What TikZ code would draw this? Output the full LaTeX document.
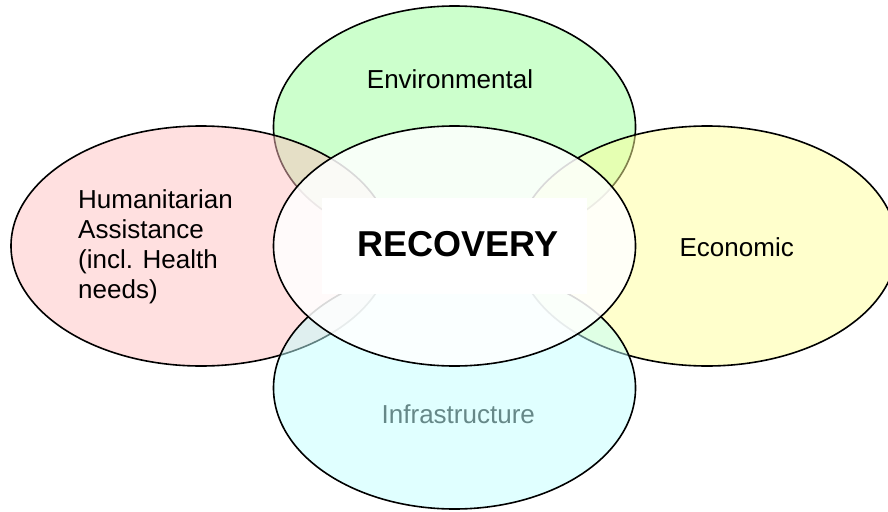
\documentclass[tikz,border=0pt]{standalone}
\usepackage{fontspec}
\setmainfont{Liberation Sans}
\usetikzlibrary{shapes.geometric}

\definecolor{envgreen}{RGB}{153,255,153}
\definecolor{humpink}{RGB}{255,193,193}
\definecolor{ecoyellow}{RGB}{255,255,153}
\definecolor{infcyan}{RGB}{193,255,255}
\definecolor{infgray}{RGB}{102,136,136}

\begin{document}
\begin{tikzpicture}[
        x=1pt, y=-1pt, % coordinates in pixels, y downwards
        field/.style={ellipse, draw=black, line width=1.6pt, fill opacity=0.5, inner sep=0pt,
                      minimum width=362pt, minimum height=242pt}, % outer ellipses
        wide/.style={minimum width=380pt, minimum height=240pt},
        core/.style={ellipse, draw=black, line width=1.6pt, fill=white, fill opacity=0.85, inner sep=0pt,
                     minimum width=362pt, minimum height=240pt}, % centre ellipse
        caption/.style={font=\fontsize{26}{30}\selectfont, inner sep=0pt, anchor=base},
    ]
    \useasboundingbox (0,0) rectangle (888,511);
    \clip (0,0) rectangle (888,511);

    % outer sectors, back to front
    \node[field, fill=envgreen] (env) at (454.5,127) {};
    \node[field, wide, fill=humpink] (hum) at (201,246) {};
    \node[field, wide, fill=ecoyellow] (eco) at (707,246) {};
    \node[field, fill=infcyan] (inf) at (454.5,388) {};

    % centre
    \node[core] (rec) at (454.5,246) {};
    \node[fill=white, inner sep=0pt, minimum width=265pt, minimum height=96pt] (recbox) at (454.5,246) {};

    % labels
    \node[caption] (envtext) at (450,88.3) {Environmental};
    \node[caption, anchor=north west, align=left] (humtext) at (78,189.7)
        {Humanitarian\\Assistance\\(incl. Health\\needs)};
    \node[caption] (ecotext) at (736.7,256.7) {Economic};
    \node[caption, text=infgray] (inftext) at (458.3,423.3) {Infrastructure};
    \node[caption, font=\bfseries\fontsize{36}{40}\selectfont] (rectext) at (457.7,256) {RECOVERY};
\end{tikzpicture}
\end{document}
